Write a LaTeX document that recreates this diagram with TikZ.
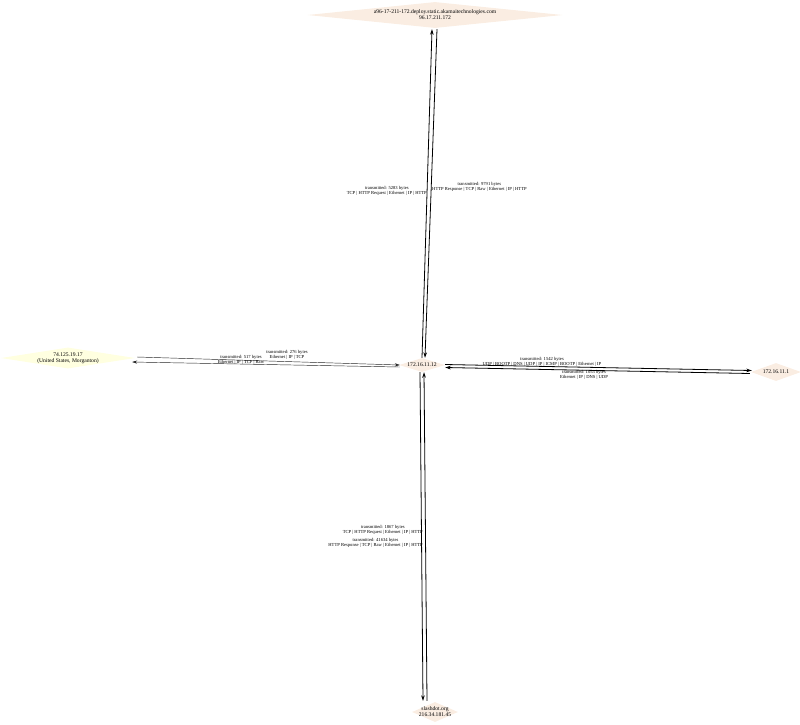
\documentclass[tikz,border=0pt]{standalone}
\usepackage{fontspec}
\setmainfont{Liberation Serif}
\usetikzlibrary{shapes.geometric,arrows.meta}
\definecolor{linenfill}{HTML}{FAEDE2}
\definecolor{yelfill}{HTML}{FFFFE0}
\tikzset{
  host/.style={diamond,fill=linenfill,draw=none,inner sep=0pt,align=center,font=\fontsize{5.6}{6}\selectfont},
  elabel/.style={inner sep=0pt,align=center,font=\fontsize{4.6}{5.1}\selectfont},
  flow/.style={line width=0.8pt,-{Stealth[length=5.5pt,width=3.6pt]}},
  thinflow/.style={line width=0.45pt,draw=black!85,-{Stealth[length=5pt,width=3.2pt]}}
}
\begin{document}
\begin{tikzpicture}[x=1pt,y=-1pt]
\useasboundingbox (0,0) rectangle (800,724);
% nodes
\node[host,minimum width=255,minimum height=26,shape aspect=9.8] (top) at (435,15)
  {a96-17-211-172.deploy.static.akamaitechnologies.com\\96.17.211.172};
\node[host,minimum width=46,minimum height=14,shape aspect=3.3] (c) at (422,365) {172.16.11.12};
\node[host,fill=yelfill,inner xsep=-8pt,inner ysep=-4pt,minimum width=134,minimum height=21,shape aspect=6.4] (l) at (68,358)
  {74.125.19.17\\(United States, Morganton)};
\node[host,minimum width=50,minimum height=18,shape aspect=2.8] (r) at (776,372) {172.16.11.1};
\node[host,inner xsep=-5pt,inner ysep=-4pt,minimum width=46,minimum height=20,shape aspect=2.3] (b) at (435,712)
  {slashdot.org\\216.34.181.45};
% top edges
\draw[flow] ([xshift=0pt]c.north) -- ([xshift=-3pt,yshift=-1pt]top.south);
\draw[flow] ([xshift=2pt,yshift=-1pt]top.south) -- ([xshift=3pt]c.north);
\node[elabel,anchor=east,align=center] (lt1) at (427,191) {transmitted: 5283 bytes\\TCP | HTTP Request | Ethernet | IP | HTTP};
\node[elabel,anchor=west] (lt2) at (432,187) {transmitted: 9791 bytes\\HTTP Response | TCP | Raw | Ethernet | IP | HTTP};
% bottom edges
\draw[flow] ([xshift=-2pt]c.south) -- ([xshift=-12pt,yshift=1pt]b.north);
\draw[flow] ([xshift=-8pt,yshift=1pt]b.north) -- ([xshift=2pt]c.south);
\node[elabel,anchor=east,align=center] (lb1) at (423,530) {transmitted: 1867 bytes\\TCP | HTTP Request | Ethernet | IP | HTTP};
\node[elabel,anchor=east,align=center] (lb2) at (423,543) {transmitted: 41634 bytes\\HTTP Response | TCP | Raw | Ethernet | IP | HTTP};
% left edges
\draw[thinflow] ([xshift=2pt,yshift=1pt]l.east) -- ([xshift=1pt]c.west);
\draw[thinflow] ([xshift=1pt,yshift=-2pt]c.west) -- ([xshift=-3pt,yshift=-4pt]l.east);
\node[elabel] (ll1) at (287,355) {transmitted: 276 bytes\\Ethernet | IP | TCP};
\node[elabel] (ll2) at (241,359.5) {transmitted: 517 bytes\\Ethernet | IP | TCP | Raw};
% right edges
\draw[flow] ([yshift=0.5pt]c.east) -- ([xshift=1pt,yshift=1.5pt]r.west);
\draw[flow] ([xshift=-1pt,yshift=-1.5pt]r.west) -- ([yshift=-2.5pt]c.east);
\node[elabel] (lr1) at (542,362) {transmitted: 1542 bytes\\UDP | BOOTP | DNS | UDP | IP | ICMP | BOOTP | Ethernet | IP};
\node[elabel] (lr2) at (584,375) {transmitted: 1053 bytes\\Ethernet | IP | DNS | UDP};
\end{tikzpicture}
\end{document}
